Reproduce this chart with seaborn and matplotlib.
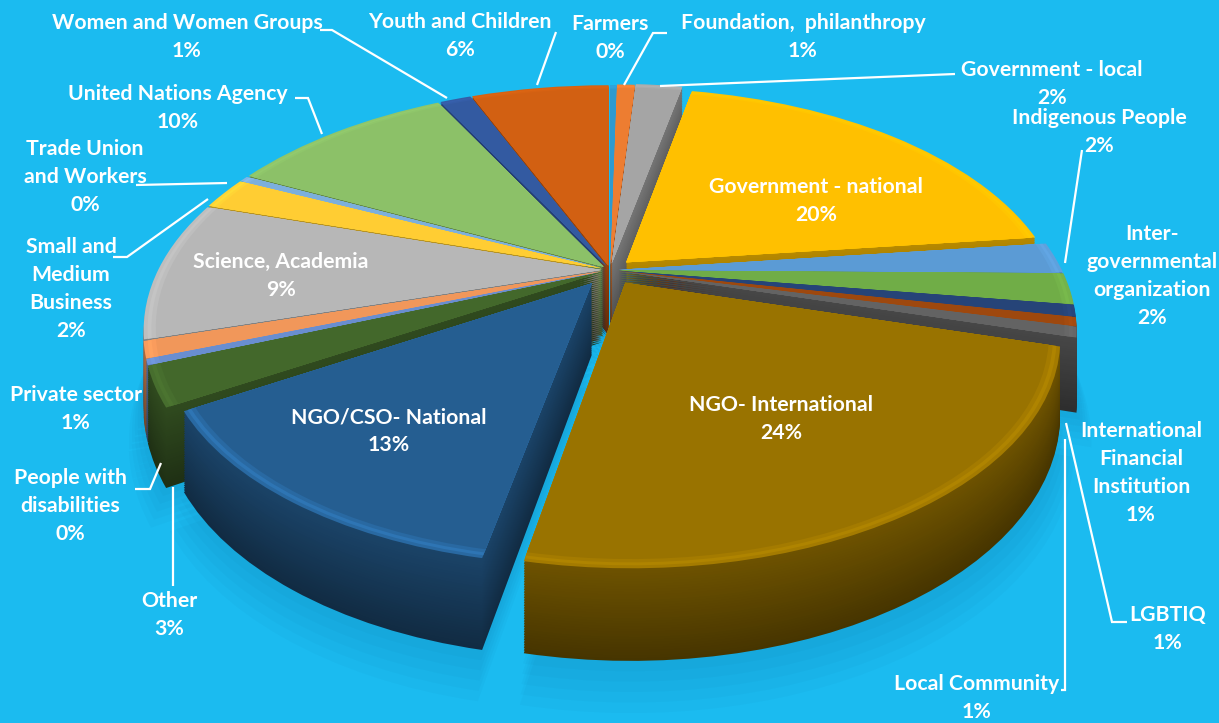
import numpy as np
import matplotlib
matplotlib.use("Agg")
import matplotlib.pyplot as plt
import matplotlib.transforms as mtransforms
import seaborn as sns

sns.set_theme(style="white")
plt.rcParams["font.family"] = ["Lato", "DejaVu Sans"]

names = ["Farmers", "Foundation,  philanthropy", "Government - local", "Government - national",
         "Indigenous People", "Inter-\ngovernmental\norganization", "International\nFinancial\nInstitution",
         "LGBTIQ", "Local Community", "NGO- International", "NGO/CSO- National", "Other",
         "People with\ndisabilities", "Private sector", "Science, Academia",
         "Small and\nMedium\nBusiness", "Trade Union\nand Workers", "United Nations Agency",
         "Women and Women Groups", "Youth and Children"]
values = [0.3, 0.8, 2.1, 19.9, 2.1, 2.1, 0.8, 0.6, 0.7, 23.7, 13.2, 2.6, 0.4, 1.1, 9.4, 2.2, 0.4, 10.0, 1.4, 6.2]
colors = ["#2E9AD0", "#ED7D31", "#A5A5A5", "#FFC000", "#5B9BD5", "#70AD47", "#264478", "#9E480E", "#636363",
          "#997300", "#255E91", "#43682B", "#698ED0", "#F1975A", "#B7B7B7", "#FFCD33", "#7CAFDD", "#8CC168",
          "#335AA1", "#D26012"]
explode = [0.02, 0.025, 0.03, 0.05, 0.02, 0.02, 0.02, 0.02, 0.02, 0.065, 0.07, 0.02, 0.02, 0.02, 0.02, 0.02,
           0.02, 0.02, 0.02, 0.02]
shrink = [1, 1, 1, 0.965, 1, 1, 1, 1, 1, 0.94, 0.93, 1, 1, 1, 1, 1, 1, 1, 1, 1]
bevel = [0.3, 0.3, 0.3, 0.2, 0.3, 0.3, 0.3, 0.3, 0.3, 0.6, 1, 0.5, 0.3, 0.3, 0.3, 0.3, 0.3, 0.2, 0.3, 0.2]

label_x = [610, 803, 1052, 816, 1099, 1152, 1141, 1168, 977, 781, 389, 169, 70, 76, 281, 71, 85, 178, 187, 460]
label_y = [38, 37, 84, 201, 132, 276, 473, 629, 698, 419, 431, 615, 506, 409, 276, 289, 177, 108, 37, 36]

leaders = [[(320, 30), (332, 30), (447, 98)],
           [(556, 32), (537, 85)],
           [(667, 33), (653, 33), (624, 85)],
           [(955, 74), (660, 86)],
           [(1082, 150), (1065, 263)],
           [(1066, 423), (1112, 622), (1127, 622)],
           [(1065, 439), (1065, 690), (1061, 690)],
           [(173, 487), (173, 586)],
           [(161, 463), (150, 489), (135, 489)],
           [(208, 199), (127, 257), (113, 257)],
           [(136, 185), (227, 183)],
           [(295, 98), (308, 98), (322, 134)]]

CX, CY = 610, 270
RX, RY, K = 443, 226.5, 0.245
DEPTH = 70
BG = "#1BBBF0"


class PieView(mtransforms.Transform):
    # flat pie -> picture pixels, seen in perspective
    input_dims = 2
    output_dims = 2

    def __init__(self, drop=0):
        super().__init__()
        self.drop = drop

    def transform_non_affine(self, xy):
        xy = np.asarray(xy)
        w = 1 + K * xy[:, 1]
        return np.column_stack([CX + RX * xy[:, 0] / w, CY + (self.drop - RY * xy[:, 1]) / w])


def mix(col, other, t):
    return tuple((1 - t) * a + t * b for a, b in zip(col, other))


def draw_layer(ax, cols, radius=1.0, drop=0, alpha=None):
    wedges, _ = ax.pie(values, colors=cols, explode=explode, startangle=90, counterclock=False,
                       wedgeprops={"linewidth": 0, "alpha": alpha})
    for w, s in zip(wedges, shrink):
        w.set_radius(radius * s)
        w.set_transform(PieView(drop) + ax.transData)


base = sns.color_palette(colors)
fig = plt.figure(figsize=(12.19, 7.23), dpi=100, facecolor=BG)
ax = fig.add_axes([0, 0, 1, 1])

# soft shadow
for d, r in zip(range(100, 64, -6), np.linspace(1.03, 1.0, 6)):
    draw_layer(ax, [(0.05, 0.3, 0.45)] * len(values), radius=r, drop=d, alpha=0.03)

# side walls, bottom up
for d in range(DEPTH, 0, -2):
    f = 0.72 - 0.26 * d / DEPTH
    draw_layer(ax, [mix((0, 0, 0), c, f) for c in base], drop=d)

# top with a bevel along the rim
for r, t in [(1.0, 0.12), (0.992, 0.24), (0.984, 0.12), (0.975, 0.0)]:
    draw_layer(ax, [tuple(min(1, v * (1 + t * b)) for v in c) for c, b in zip(base, bevel)], radius=r)

ax.set_aspect("auto")
ax.set_xlim(0, 1219)
ax.set_ylim(723, 0)
ax.axis("off")

for seg in leaders:
    xs, ys = zip(*seg)
    ax.plot(xs, ys, color="white", lw=1.6, solid_capstyle="butt", solid_joinstyle="miter", zorder=5)

for name, val, x, y in zip(names, values, label_x, label_y):
    ax.text(x, y, f"{name}\n{val:.0f}%", color="white", fontsize=15.3, fontweight="bold", ha="center", va="center",
            linespacing=1.48, zorder=6)

fig.savefig("out.png", dpi=100, facecolor=BG)
